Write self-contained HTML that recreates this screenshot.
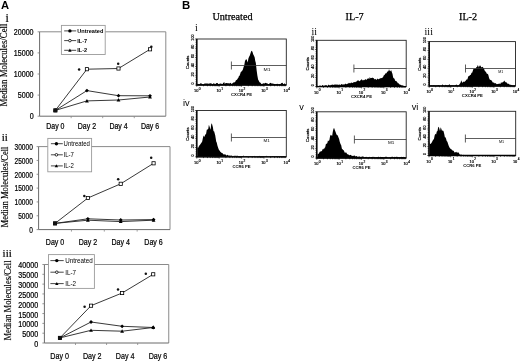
<!DOCTYPE html>
<html><head><meta charset="utf-8"><title>Figure</title>
<style>
html,body{margin:0;padding:0;background:#fff;}
body{width:520px;height:361px;overflow:hidden;font-family:"Liberation Sans", sans-serif;}
svg{display:block;filter:grayscale(100%) blur(0.3px);}
</style></head><body>
<svg width="520" height="361" viewBox="0 0 520 361" font-family='"Liberation Sans", sans-serif' fill="#000">
<text x="0.9" y="8.8" font-size="11.2" font-weight="bold">A</text>
<text x="181.9" y="9.0" font-size="11.4" font-weight="bold">B</text>
<text x="212.4" y="19.7" font-size="10.2" font-family="&quot;Liberation Serif&quot;, serif" stroke="#000" stroke-width="0.25">Untreated</text>
<text x="345.6" y="19.7" font-size="10.2" font-family="&quot;Liberation Serif&quot;, serif" stroke="#000" stroke-width="0.25">IL-7</text>
<text x="459" y="19.7" font-size="10.2" font-family="&quot;Liberation Serif&quot;, serif" stroke="#000" stroke-width="0.25">IL-2</text>
<path d="M39.6 31.8H165.8V116.2" fill="none" stroke="#8a8a8a" stroke-width="1"/>
<path d="M39.6 31.8V116.2H165.8" fill="none" stroke="#6a6a6a" stroke-width="1"/>
<path d="M37.6 116.2H39.6" stroke="#777" stroke-width="0.8"/>
<text x="33.6" y="119.45" font-size="8.2" text-anchor="end" textLength="3.97" lengthAdjust="spacingAndGlyphs" stroke="#000" stroke-width="0.22">0</text>
<path d="M37.6 95.1H39.6" stroke="#777" stroke-width="0.8"/>
<text x="33.6" y="98.35" font-size="8.2" text-anchor="end" textLength="15.87" lengthAdjust="spacingAndGlyphs" stroke="#000" stroke-width="0.22">5000</text>
<path d="M37.6 74H39.6" stroke="#777" stroke-width="0.8"/>
<text x="33.6" y="77.25" font-size="8.2" text-anchor="end" textLength="19.84" lengthAdjust="spacingAndGlyphs" stroke="#000" stroke-width="0.22">10000</text>
<path d="M37.6 52.9H39.6" stroke="#777" stroke-width="0.8"/>
<text x="33.6" y="56.15" font-size="8.2" text-anchor="end" textLength="19.84" lengthAdjust="spacingAndGlyphs" stroke="#000" stroke-width="0.22">15000</text>
<path d="M37.6 31.8H39.6" stroke="#777" stroke-width="0.8"/>
<text x="33.6" y="35.05" font-size="8.2" text-anchor="end" textLength="19.84" lengthAdjust="spacingAndGlyphs" stroke="#000" stroke-width="0.22">20000</text>
<path d="M71.15 116.2V118.2" stroke="#888" stroke-width="0.8"/>
<path d="M102.7 116.2V118.2" stroke="#888" stroke-width="0.8"/>
<path d="M134.25 116.2V118.2" stroke="#888" stroke-width="0.8"/>
<text x="55.38" y="129.35" font-size="8.2" text-anchor="middle" textLength="18.21" lengthAdjust="spacingAndGlyphs" stroke="#000" stroke-width="0.22">Day 0</text>
<text x="86.93" y="129.35" font-size="8.2" text-anchor="middle" textLength="18.21" lengthAdjust="spacingAndGlyphs" stroke="#000" stroke-width="0.22">Day 2</text>
<text x="118.48" y="129.35" font-size="8.2" text-anchor="middle" textLength="18.21" lengthAdjust="spacingAndGlyphs" stroke="#000" stroke-width="0.22">Day 4</text>
<text x="150.03" y="129.35" font-size="8.2" text-anchor="middle" textLength="18.21" lengthAdjust="spacingAndGlyphs" stroke="#000" stroke-width="0.22">Day 6</text>
<polyline points="55.38,110.4 86.93,90.6 118.48,95.7 150.03,95.8" fill="none" stroke="#222" stroke-width="0.9"/>
<polyline points="55.38,110.4 86.93,100.9 118.48,100 150.03,97" fill="none" stroke="#222" stroke-width="0.9"/>
<polyline points="55.38,110.4 86.93,69.2 118.48,68.5 150.03,49.3" fill="none" stroke="#222" stroke-width="0.9"/>
<rect x="53.77" y="108.8" width="3.2" height="3.2" fill="#fff" stroke="#000" stroke-width="0.8"/>
<rect x="85.33" y="67.6" width="3.2" height="3.2" fill="#fff" stroke="#000" stroke-width="0.8"/>
<rect x="116.88" y="66.9" width="3.2" height="3.2" fill="#fff" stroke="#000" stroke-width="0.8"/>
<rect x="148.43" y="47.7" width="3.2" height="3.2" fill="#fff" stroke="#000" stroke-width="0.8"/>
<path d="M55.38 108.5L57.27 110.4L55.38 112.3L53.48 110.4Z" fill="#000"/>
<path d="M86.93 88.7L88.83 90.6L86.93 92.5L85.03 90.6Z" fill="#000"/>
<path d="M118.48 93.8L120.38 95.7L118.48 97.6L116.58 95.7Z" fill="#000"/>
<path d="M150.03 93.9L151.93 95.8L150.03 97.7L148.12 95.8Z" fill="#000"/>
<path d="M55.38 108.5L57.27 111.92L53.48 111.92Z" fill="#000"/>
<path d="M86.93 99L88.83 102.42L85.03 102.42Z" fill="#000"/>
<path d="M118.48 98.1L120.38 101.52L116.58 101.52Z" fill="#000"/>
<path d="M150.03 95.1L151.93 98.52L148.12 98.52Z" fill="#000"/>
<rect x="53.58" y="108.6" width="3.6" height="3.6" fill="#111"/>
<circle cx="79.1" cy="69.4" r="1.25" fill="#111"/>
<circle cx="118.2" cy="63.8" r="1.25" fill="#111"/>
<circle cx="151.3" cy="46.8" r="1.25" fill="#111"/>
<rect x="61.4" y="25.4" width="43.8" height="29.1" fill="#fff" stroke="#9a9a9a" stroke-width="0.9"/>
<path d="M64.2 30.9H76.2" stroke="#333" stroke-width="0.9"/>
<circle cx="69.9" cy="30.9" r="1.7" fill="#000"/>
<text x="77.2" y="32.92" font-size="5.6" font-weight="bold">Untreated</text>
<path d="M64.2 40.6H76.2" stroke="#333" stroke-width="0.9"/>
<circle cx="69.9" cy="40.6" r="1.3" fill="#fff" stroke="#000" stroke-width="0.8"/>
<text x="77.2" y="42.62" font-size="5.6" font-weight="bold">IL-7</text>
<path d="M64.2 50.3H76.2" stroke="#333" stroke-width="0.9"/>
<path d="M69.9 48.6L71.6 51.66L68.2 51.66Z" fill="#000"/>
<text x="77.2" y="52.32" font-size="5.6" font-weight="bold">IL-2</text>
<text transform="translate(7.4 65) rotate(-90)" font-size="9.4" text-anchor="middle" font-family="&quot;Liberation Serif&quot;, serif" textLength="82.99" lengthAdjust="spacingAndGlyphs" stroke="#000" stroke-width="0.15">Median Molecules/Cell</text>
<text x="5.6" y="21.8" font-size="12" font-family="&quot;Liberation Serif&quot;, serif" stroke="#000" stroke-width="0.2">i</text>
<path d="M38.6 146.6H170V229.6" fill="none" stroke="#8a8a8a" stroke-width="1"/>
<path d="M38.6 146.6V229.6H170" fill="none" stroke="#6a6a6a" stroke-width="1"/>
<path d="M36.6 229.6H38.6" stroke="#777" stroke-width="0.8"/>
<text x="32.8" y="232.85" font-size="8.2" text-anchor="end" textLength="3.65" lengthAdjust="spacingAndGlyphs" stroke="#000" stroke-width="0.22">0</text>
<path d="M36.6 215.77H38.6" stroke="#777" stroke-width="0.8"/>
<text x="32.8" y="219.02" font-size="8.2" text-anchor="end" textLength="14.59" lengthAdjust="spacingAndGlyphs" stroke="#000" stroke-width="0.22">5000</text>
<path d="M36.6 201.93H38.6" stroke="#777" stroke-width="0.8"/>
<text x="32.8" y="205.19" font-size="8.2" text-anchor="end" textLength="18.24" lengthAdjust="spacingAndGlyphs" stroke="#000" stroke-width="0.22">10000</text>
<path d="M36.6 188.1H38.6" stroke="#777" stroke-width="0.8"/>
<text x="32.8" y="191.35" font-size="8.2" text-anchor="end" textLength="18.24" lengthAdjust="spacingAndGlyphs" stroke="#000" stroke-width="0.22">15000</text>
<path d="M36.6 174.27H38.6" stroke="#777" stroke-width="0.8"/>
<text x="32.8" y="177.52" font-size="8.2" text-anchor="end" textLength="18.24" lengthAdjust="spacingAndGlyphs" stroke="#000" stroke-width="0.22">20000</text>
<path d="M36.6 160.43H38.6" stroke="#777" stroke-width="0.8"/>
<text x="32.8" y="163.69" font-size="8.2" text-anchor="end" textLength="18.24" lengthAdjust="spacingAndGlyphs" stroke="#000" stroke-width="0.22">25000</text>
<path d="M36.6 146.6H38.6" stroke="#777" stroke-width="0.8"/>
<text x="32.8" y="149.85" font-size="8.2" text-anchor="end" textLength="18.24" lengthAdjust="spacingAndGlyphs" stroke="#000" stroke-width="0.22">30000</text>
<path d="M71.45 229.6V231.6" stroke="#888" stroke-width="0.8"/>
<path d="M104.3 229.6V231.6" stroke="#888" stroke-width="0.8"/>
<path d="M137.15 229.6V231.6" stroke="#888" stroke-width="0.8"/>
<text x="55.03" y="245" font-size="8.4" text-anchor="middle" textLength="18.43" lengthAdjust="spacingAndGlyphs" stroke="#000" stroke-width="0.22">Day 0</text>
<text x="87.88" y="245" font-size="8.4" text-anchor="middle" textLength="18.43" lengthAdjust="spacingAndGlyphs" stroke="#000" stroke-width="0.22">Day 2</text>
<text x="120.72" y="245" font-size="8.4" text-anchor="middle" textLength="18.43" lengthAdjust="spacingAndGlyphs" stroke="#000" stroke-width="0.22">Day 4</text>
<text x="153.58" y="245" font-size="8.4" text-anchor="middle" textLength="18.43" lengthAdjust="spacingAndGlyphs" stroke="#000" stroke-width="0.22">Day 6</text>
<polyline points="55.03,223.4 87.88,218.8 120.72,220 153.58,219.6" fill="none" stroke="#222" stroke-width="0.9"/>
<polyline points="55.03,223.4 87.88,220.2 120.72,221.6 153.58,220.2" fill="none" stroke="#222" stroke-width="0.9"/>
<polyline points="55.03,223.4 87.88,198 120.72,183.8 153.58,163.3" fill="none" stroke="#222" stroke-width="0.9"/>
<rect x="53.43" y="221.8" width="3.2" height="3.2" fill="#fff" stroke="#000" stroke-width="0.8"/>
<rect x="86.27" y="196.4" width="3.2" height="3.2" fill="#fff" stroke="#000" stroke-width="0.8"/>
<rect x="119.12" y="182.2" width="3.2" height="3.2" fill="#fff" stroke="#000" stroke-width="0.8"/>
<rect x="151.98" y="161.7" width="3.2" height="3.2" fill="#fff" stroke="#000" stroke-width="0.8"/>
<path d="M55.03 221.5L56.93 223.4L55.03 225.3L53.13 223.4Z" fill="#000"/>
<path d="M87.88 216.9L89.78 218.8L87.88 220.7L85.97 218.8Z" fill="#000"/>
<path d="M120.72 218.1L122.62 220L120.72 221.9L118.82 220Z" fill="#000"/>
<path d="M153.58 217.7L155.48 219.6L153.58 221.5L151.68 219.6Z" fill="#000"/>
<path d="M55.03 221.5L56.93 224.92L53.13 224.92Z" fill="#000"/>
<path d="M87.88 218.3L89.78 221.72L85.97 221.72Z" fill="#000"/>
<path d="M120.72 219.7L122.62 223.12L118.82 223.12Z" fill="#000"/>
<path d="M153.58 218.3L155.48 221.72L151.68 221.72Z" fill="#000"/>
<rect x="53.23" y="221.6" width="3.6" height="3.6" fill="#111"/>
<circle cx="84.3" cy="196" r="1.25" fill="#111"/>
<circle cx="118.2" cy="179.3" r="1.25" fill="#111"/>
<circle cx="151.2" cy="157.8" r="1.25" fill="#111"/>
<rect x="47.8" y="138.4" width="43.8" height="33.4" fill="#fff" stroke="#9a9a9a" stroke-width="0.9"/>
<path d="M50.9 143.7H62.8" stroke="#333" stroke-width="0.9"/>
<circle cx="56.4" cy="143.7" r="1.7" fill="#000"/>
<text x="63.6" y="146.18" font-size="6.9" textLength="26.36" lengthAdjust="spacingAndGlyphs">Untreated</text>
<path d="M50.9 154.8H62.8" stroke="#333" stroke-width="0.9"/>
<circle cx="56.4" cy="154.8" r="1.3" fill="#fff" stroke="#000" stroke-width="0.8"/>
<text x="63.6" y="157.28" font-size="6.9" textLength="10.34" lengthAdjust="spacingAndGlyphs">IL-7</text>
<path d="M50.9 165.9H62.8" stroke="#333" stroke-width="0.9"/>
<path d="M56.4 164.2L58.1 167.26L54.7 167.26Z" fill="#000"/>
<text x="63.6" y="168.38" font-size="6.9" textLength="10.34" lengthAdjust="spacingAndGlyphs">IL-2</text>
<text transform="translate(7.6 187) rotate(-90)" font-size="9.4" text-anchor="middle" font-family="&quot;Liberation Serif&quot;, serif" textLength="80.99" lengthAdjust="spacingAndGlyphs" stroke="#000" stroke-width="0.15">Median Molecules/Cell</text>
<text x="1.8" y="141.3" font-size="11" font-family="&quot;Liberation Serif&quot;, serif" stroke="#000" stroke-width="0.2">ii</text>
<path d="M44.4 264.5H168.75V343" fill="none" stroke="#8a8a8a" stroke-width="1"/>
<path d="M44.4 264.5V343H168.75" fill="none" stroke="#6a6a6a" stroke-width="1"/>
<path d="M42.4 343H44.4" stroke="#777" stroke-width="0.8"/>
<text x="38.2" y="346.95" font-size="8.2" text-anchor="end" textLength="3.97" lengthAdjust="spacingAndGlyphs" stroke="#000" stroke-width="0.22">0</text>
<path d="M42.4 333.19H44.4" stroke="#777" stroke-width="0.8"/>
<text x="38.2" y="337.14" font-size="8.2" text-anchor="end" textLength="15.87" lengthAdjust="spacingAndGlyphs" stroke="#000" stroke-width="0.22">5000</text>
<path d="M42.4 323.38H44.4" stroke="#777" stroke-width="0.8"/>
<text x="38.2" y="327.33" font-size="8.2" text-anchor="end" textLength="19.84" lengthAdjust="spacingAndGlyphs" stroke="#000" stroke-width="0.22">10000</text>
<path d="M42.4 313.56H44.4" stroke="#777" stroke-width="0.8"/>
<text x="38.2" y="317.51" font-size="8.2" text-anchor="end" textLength="19.84" lengthAdjust="spacingAndGlyphs" stroke="#000" stroke-width="0.22">15000</text>
<path d="M42.4 303.75H44.4" stroke="#777" stroke-width="0.8"/>
<text x="38.2" y="307.7" font-size="8.2" text-anchor="end" textLength="19.84" lengthAdjust="spacingAndGlyphs" stroke="#000" stroke-width="0.22">20000</text>
<path d="M42.4 293.94H44.4" stroke="#777" stroke-width="0.8"/>
<text x="38.2" y="297.89" font-size="8.2" text-anchor="end" textLength="19.84" lengthAdjust="spacingAndGlyphs" stroke="#000" stroke-width="0.22">25000</text>
<path d="M42.4 284.12H44.4" stroke="#777" stroke-width="0.8"/>
<text x="38.2" y="288.08" font-size="8.2" text-anchor="end" textLength="19.84" lengthAdjust="spacingAndGlyphs" stroke="#000" stroke-width="0.22">30000</text>
<path d="M42.4 274.31H44.4" stroke="#777" stroke-width="0.8"/>
<text x="38.2" y="278.26" font-size="8.2" text-anchor="end" textLength="19.84" lengthAdjust="spacingAndGlyphs" stroke="#000" stroke-width="0.22">35000</text>
<path d="M42.4 264.5H44.4" stroke="#777" stroke-width="0.8"/>
<text x="38.2" y="268.45" font-size="8.2" text-anchor="end" textLength="19.84" lengthAdjust="spacingAndGlyphs" stroke="#000" stroke-width="0.22">40000</text>
<path d="M75.49 343V345" stroke="#888" stroke-width="0.8"/>
<path d="M106.57 343V345" stroke="#888" stroke-width="0.8"/>
<path d="M137.66 343V345" stroke="#888" stroke-width="0.8"/>
<text x="59.65" y="358.6" font-size="9.2" text-anchor="middle" textLength="18.75" lengthAdjust="spacingAndGlyphs" stroke="#000" stroke-width="0.22">Day 0</text>
<text x="92.25" y="358.6" font-size="9.2" text-anchor="middle" textLength="18.75" lengthAdjust="spacingAndGlyphs" stroke="#000" stroke-width="0.22">Day 2</text>
<text x="125.2" y="358.6" font-size="9.2" text-anchor="middle" textLength="18.75" lengthAdjust="spacingAndGlyphs" stroke="#000" stroke-width="0.22">Day 4</text>
<text x="158" y="358.6" font-size="9.2" text-anchor="middle" textLength="18.75" lengthAdjust="spacingAndGlyphs" stroke="#000" stroke-width="0.22">Day 6</text>
<polyline points="59.94,337.9 91.03,322 122.12,326.3 153.21,327.5" fill="none" stroke="#222" stroke-width="0.9"/>
<polyline points="59.94,337.9 91.03,330.3 122.12,331.2 153.21,327.5" fill="none" stroke="#222" stroke-width="0.9"/>
<polyline points="59.94,337.9 91.03,305.7 122.12,293 153.21,274.3" fill="none" stroke="#222" stroke-width="0.9"/>
<rect x="58.34" y="336.3" width="3.2" height="3.2" fill="#fff" stroke="#000" stroke-width="0.8"/>
<rect x="89.43" y="304.1" width="3.2" height="3.2" fill="#fff" stroke="#000" stroke-width="0.8"/>
<rect x="120.52" y="291.4" width="3.2" height="3.2" fill="#fff" stroke="#000" stroke-width="0.8"/>
<rect x="151.61" y="272.7" width="3.2" height="3.2" fill="#fff" stroke="#000" stroke-width="0.8"/>
<path d="M59.94 336L61.84 337.9L59.94 339.8L58.04 337.9Z" fill="#000"/>
<path d="M91.03 320.1L92.93 322L91.03 323.9L89.13 322Z" fill="#000"/>
<path d="M122.12 324.4L124.02 326.3L122.12 328.2L120.22 326.3Z" fill="#000"/>
<path d="M153.21 325.6L155.11 327.5L153.21 329.4L151.31 327.5Z" fill="#000"/>
<path d="M59.94 336L61.84 339.42L58.04 339.42Z" fill="#000"/>
<path d="M91.03 328.4L92.93 331.82L89.13 331.82Z" fill="#000"/>
<path d="M122.12 329.3L124.02 332.72L120.22 332.72Z" fill="#000"/>
<path d="M153.21 325.6L155.11 329.02L151.31 329.02Z" fill="#000"/>
<rect x="58.14" y="336.1" width="3.6" height="3.6" fill="#111"/>
<circle cx="84.6" cy="306.8" r="1.25" fill="#111"/>
<circle cx="118" cy="289.6" r="1.25" fill="#111"/>
<circle cx="145.8" cy="273.8" r="1.25" fill="#111"/>
<rect x="48.5" y="254.6" width="45.9" height="33.8" fill="#fff" stroke="#9a9a9a" stroke-width="0.9"/>
<path d="M50.4 260.6H63.7" stroke="#333" stroke-width="0.9"/>
<circle cx="56.8" cy="260.6" r="1.7" fill="#000"/>
<text x="65.2" y="263.19" font-size="7.2" textLength="27.51" lengthAdjust="spacingAndGlyphs">Untreated</text>
<path d="M50.4 272.2H63.7" stroke="#333" stroke-width="0.9"/>
<circle cx="56.8" cy="272.2" r="1.3" fill="#fff" stroke="#000" stroke-width="0.8"/>
<text x="65.2" y="274.79" font-size="7.2" textLength="10.79" lengthAdjust="spacingAndGlyphs">IL-7</text>
<path d="M50.4 283.6H63.7" stroke="#333" stroke-width="0.9"/>
<path d="M56.8 281.9L58.5 284.96L55.1 284.96Z" fill="#000"/>
<text x="65.2" y="286.19" font-size="7.2" textLength="10.79" lengthAdjust="spacingAndGlyphs">IL-2</text>
<text transform="translate(10.6 300.5) rotate(-90)" font-size="9.4" text-anchor="middle" font-family="&quot;Liberation Serif&quot;, serif" textLength="79.99" lengthAdjust="spacingAndGlyphs" stroke="#000" stroke-width="0.15">Median Molecules/Cell</text>
<text x="2.6" y="256.5" font-size="11" font-family="&quot;Liberation Serif&quot;, serif" stroke="#000" stroke-width="0.2">iii</text>
<polygon points="197.3,85 197.5,83.64 198.5,84.02 199.5,84.13 200.5,83.31 201.5,83.54 202.5,84.17 203.5,84.43 204.5,83.61 205.5,83.57 206.5,83.54 207.5,83.48 208.5,83.66 209.5,83.59 210.5,83.2 211.5,83.47 212.5,84.34 213.5,83.25 214.5,83.75 215.5,84.1 216.5,82.9 217.5,82.98 218.5,84.26 219.5,83.87 220.5,83.46 221.5,83.65 222.5,84.19 223.13,83 223.77,82.43 224.4,81.92 224.5,83.73 225.5,83.15 226.5,82.95 227.5,83.14 228.5,83.15 229.5,83.61 230.5,82.81 231.5,84.12 232.5,83.24 233.2,82.91 233.9,81.92 234.57,82.41 235.25,81.74 235.93,80.19 236.6,79.95 237.16,79.57 237.72,78.6 238.28,78.06 238.84,76.13 239.4,75.98 240.1,74.31 240.8,72.1 241.5,71.42 242.2,70.84 242.9,69.4 243.6,67.02 244.27,65.23 244.93,61.21 245.6,59.82 246.6,59.23 247.7,62.6 248.4,58.46 249.1,56.81 249.8,55.47 250.5,53.34 251.2,51.19 251.9,50.8 252.6,52.19 253.3,54.51 254,55.69 254.7,57.56 255.25,61.11 255.8,62.71 256.7,70.77 257.4,75.77 258.1,79.59 258.8,80.68 259.5,82.17 260.2,82.38 260.9,83.24 261.6,84.21 262.5,83.72 263.5,83.31 264.5,83.59 265.5,82.67 266.5,83.28 267.5,83.52 268.5,84.34 269.5,83.6 270.5,82.72 271.5,83.44 272.5,83.56 273.5,83.65 274.5,83.94 275.5,84.28 276.5,83.95 277.5,83.76 278.5,84.59 279.5,84.02 280.5,83.97 281.5,82.93 282.5,82.73 283.5,84.45 284.5,83.18 285.8,85" fill="#000"/>
<rect x="196.8" y="39" width="89.5" height="46" fill="none" stroke="#222" stroke-width="0.9"/>
<path d="M196.8 39V85H286.3" fill="none" stroke="#000" stroke-width="1.3"/>
<path d="M195 85H196.8" stroke="#000" stroke-width="0.6"/>
<path d="M195.5 83.16H196.8" stroke="#000" stroke-width="0.6"/>
<path d="M195.5 81.32H196.8" stroke="#000" stroke-width="0.6"/>
<path d="M195.5 79.48H196.8" stroke="#000" stroke-width="0.6"/>
<path d="M195.5 77.64H196.8" stroke="#000" stroke-width="0.6"/>
<path d="M195 75.8H196.8" stroke="#000" stroke-width="0.6"/>
<path d="M195.5 73.96H196.8" stroke="#000" stroke-width="0.6"/>
<path d="M195.5 72.12H196.8" stroke="#000" stroke-width="0.6"/>
<path d="M195.5 70.28H196.8" stroke="#000" stroke-width="0.6"/>
<path d="M195.5 68.44H196.8" stroke="#000" stroke-width="0.6"/>
<path d="M195 66.6H196.8" stroke="#000" stroke-width="0.6"/>
<path d="M195.5 64.76H196.8" stroke="#000" stroke-width="0.6"/>
<path d="M195.5 62.92H196.8" stroke="#000" stroke-width="0.6"/>
<path d="M195.5 61.08H196.8" stroke="#000" stroke-width="0.6"/>
<path d="M195.5 59.24H196.8" stroke="#000" stroke-width="0.6"/>
<path d="M195 57.4H196.8" stroke="#000" stroke-width="0.6"/>
<path d="M195.5 55.56H196.8" stroke="#000" stroke-width="0.6"/>
<path d="M195.5 53.72H196.8" stroke="#000" stroke-width="0.6"/>
<path d="M195.5 51.88H196.8" stroke="#000" stroke-width="0.6"/>
<path d="M195.5 50.04H196.8" stroke="#000" stroke-width="0.6"/>
<path d="M195 48.2H196.8" stroke="#000" stroke-width="0.6"/>
<path d="M195.5 46.36H196.8" stroke="#000" stroke-width="0.6"/>
<path d="M195.5 44.52H196.8" stroke="#000" stroke-width="0.6"/>
<path d="M195.5 42.68H196.8" stroke="#000" stroke-width="0.6"/>
<path d="M195.5 40.84H196.8" stroke="#000" stroke-width="0.6"/>
<path d="M195 39H196.8" stroke="#000" stroke-width="0.6"/>
<text transform="translate(193.8 83.5) rotate(-90)" font-size="3.9" text-anchor="middle" stroke="#000" stroke-width="0.18">0</text>
<text transform="translate(193.8 74.3) rotate(-90)" font-size="3.9" text-anchor="middle" stroke="#000" stroke-width="0.18">20</text>
<text transform="translate(193.8 65.1) rotate(-90)" font-size="3.9" text-anchor="middle" stroke="#000" stroke-width="0.18">40</text>
<text transform="translate(193.8 55.9) rotate(-90)" font-size="3.9" text-anchor="middle" stroke="#000" stroke-width="0.18">60</text>
<text transform="translate(193.8 46.7) rotate(-90)" font-size="3.9" text-anchor="middle" stroke="#000" stroke-width="0.18">80</text>
<text transform="translate(193.8 37.5) rotate(-90)" font-size="3.9" text-anchor="middle" stroke="#000" stroke-width="0.18">100</text>
<text transform="translate(188.6 62.4) rotate(-90)" font-size="4.2" text-anchor="middle" stroke="#000" stroke-width="0.18">Counts</text>
<path d="M196.8 85V86.8" stroke="#000" stroke-width="0.6"/>
<path d="M203.54 85V86.3" stroke="#000" stroke-width="0.6"/>
<path d="M207.48 85V86.3" stroke="#000" stroke-width="0.6"/>
<path d="M210.27 85V86.3" stroke="#000" stroke-width="0.6"/>
<path d="M212.44 85V86.3" stroke="#000" stroke-width="0.6"/>
<path d="M214.21 85V86.3" stroke="#000" stroke-width="0.6"/>
<path d="M215.71 85V86.3" stroke="#000" stroke-width="0.6"/>
<path d="M217.01 85V86.3" stroke="#000" stroke-width="0.6"/>
<path d="M218.15 85V86.3" stroke="#000" stroke-width="0.6"/>
<path d="M219.18 85V86.8" stroke="#000" stroke-width="0.6"/>
<path d="M225.91 85V86.3" stroke="#000" stroke-width="0.6"/>
<path d="M229.85 85V86.3" stroke="#000" stroke-width="0.6"/>
<path d="M232.65 85V86.3" stroke="#000" stroke-width="0.6"/>
<path d="M234.81 85V86.3" stroke="#000" stroke-width="0.6"/>
<path d="M236.59 85V86.3" stroke="#000" stroke-width="0.6"/>
<path d="M238.08 85V86.3" stroke="#000" stroke-width="0.6"/>
<path d="M239.38 85V86.3" stroke="#000" stroke-width="0.6"/>
<path d="M240.53 85V86.3" stroke="#000" stroke-width="0.6"/>
<path d="M241.55 85V86.8" stroke="#000" stroke-width="0.6"/>
<path d="M248.29 85V86.3" stroke="#000" stroke-width="0.6"/>
<path d="M252.23 85V86.3" stroke="#000" stroke-width="0.6"/>
<path d="M255.02 85V86.3" stroke="#000" stroke-width="0.6"/>
<path d="M257.19 85V86.3" stroke="#000" stroke-width="0.6"/>
<path d="M258.96 85V86.3" stroke="#000" stroke-width="0.6"/>
<path d="M260.46 85V86.3" stroke="#000" stroke-width="0.6"/>
<path d="M261.76 85V86.3" stroke="#000" stroke-width="0.6"/>
<path d="M262.9 85V86.3" stroke="#000" stroke-width="0.6"/>
<path d="M263.93 85V86.8" stroke="#000" stroke-width="0.6"/>
<path d="M270.66 85V86.3" stroke="#000" stroke-width="0.6"/>
<path d="M274.6 85V86.3" stroke="#000" stroke-width="0.6"/>
<path d="M277.4 85V86.3" stroke="#000" stroke-width="0.6"/>
<path d="M279.56 85V86.3" stroke="#000" stroke-width="0.6"/>
<path d="M281.34 85V86.3" stroke="#000" stroke-width="0.6"/>
<path d="M282.83 85V86.3" stroke="#000" stroke-width="0.6"/>
<path d="M284.13 85V86.3" stroke="#000" stroke-width="0.6"/>
<path d="M285.28 85V86.3" stroke="#000" stroke-width="0.6"/>
<text x="196.2" y="92.1" font-size="3.9" text-anchor="middle" stroke="#000" stroke-width="0.18">10</text>
<text x="198.8" y="89.7" font-size="3.2" stroke="#000" stroke-width="0.18">0</text>
<text x="218.58" y="92.1" font-size="3.9" text-anchor="middle" stroke="#000" stroke-width="0.18">10</text>
<text x="221.18" y="89.7" font-size="3.2" stroke="#000" stroke-width="0.18">1</text>
<text x="240.95" y="92.1" font-size="3.9" text-anchor="middle" stroke="#000" stroke-width="0.18">10</text>
<text x="243.55" y="89.7" font-size="3.2" stroke="#000" stroke-width="0.18">2</text>
<text x="263.32" y="92.1" font-size="3.9" text-anchor="middle" stroke="#000" stroke-width="0.18">10</text>
<text x="265.93" y="89.7" font-size="3.2" stroke="#000" stroke-width="0.18">3</text>
<text x="285.7" y="92.1" font-size="3.9" text-anchor="middle" stroke="#000" stroke-width="0.18">10</text>
<text x="288.3" y="89.7" font-size="3.2" stroke="#000" stroke-width="0.18">4</text>
<text x="241.55" y="96" font-size="4.2" text-anchor="middle" font-weight="bold">CXCR4 PE</text>
<path d="M231.4 65.5H286.3 M231.4 61.5V69.5" stroke="#333" stroke-width="0.8" fill="none"/>
<text x="263.6" y="70.6" font-size="3.8" textLength="7" lengthAdjust="spacingAndGlyphs">M1</text>
<text x="195" y="30.8" font-size="10" font-family="&quot;Liberation Serif&quot;, serif">i</text>
<polygon points="317.3,86.6 317.5,85.44 318.08,86.12 318.65,86 319.23,85.46 319.81,85.67 320.38,85.59 320.96,85.77 321.54,85.88 322.12,85.14 322.69,85.04 323.27,85.84 323.85,85.39 324.42,85.7 325,84.88 325.56,85.31 326.12,85.57 326.68,85.01 327.23,85.74 327.79,85.66 328.35,84.7 328.91,84.66 329.47,85.18 330.02,85.57 330.58,84.94 331.14,84.72 331.7,84.91 332.25,84.46 332.81,84.64 333.36,84.85 333.91,84.89 334.47,84.57 335.02,84.54 335.57,84.5 336.13,84.74 336.68,84.52 337.23,84.2 337.79,85.09 338.34,84.74 338.89,84.81 339.45,84.27 340,85.16 340.56,84.94 341.12,84.01 341.68,84.18 342.23,84.56 342.79,84.48 343.35,84.67 343.91,83.98 344.47,84.4 345.02,84.13 345.58,83.61 346.14,83.88 346.7,84.18 347.25,84.05 347.8,83.54 348.35,83.56 348.9,82.77 349.45,82.95 350,83.59 350.58,82.95 351.17,82.5 351.75,82.87 352.33,82.95 352.92,82.78 353.5,82.22 354.07,82.14 354.64,82.07 355.21,82.29 355.79,81.75 356.36,81.38 356.93,81.36 357.5,80.47 358.25,80.18 359,80.93 359.62,81.22 360.25,80.4 360.88,79.9 361.5,79.34 362.12,79.83 362.75,80.58 363.38,80.14 364,79.67 364.58,80.15 365.16,78.97 365.74,79.38 366.32,80.08 366.9,79.34 367.48,78.87 368.06,78.25 368.64,78.51 369.22,79.03 369.8,76.94 370.43,78.23 371.05,78.09 371.68,78.01 372.3,77.49 372.9,78.12 373.5,78.04 374.25,78.96 375,79.57 375.67,78.69 376.33,79.89 377,79.13 377.67,78.53 378.33,79.14 379,79.17 379.67,78.6 380.33,78.25 381,78.27 381.7,78.11 382.4,77.76 383.1,77.12 383.85,75.34 384.6,74.9 385.2,73.58 385.8,73.41 386.4,73.29 387,72.31 387.8,71.34 388.4,71.16 389,69.29 389.8,71.08 390.45,71.14 391.1,70.05 391.8,71.99 392.5,74.1 393.15,77.43 393.8,78.13 394.5,78.87 395.2,80.7 395.85,80.96 396.5,81.27 397.18,82.03 397.85,83.14 398.52,83.29 399.2,84.03 399.88,84.84 400.55,84.85 401.22,85.01 401.9,85.47 402.55,85.14 403.2,85.64 403.85,85.8 404.5,86 405.7,86.6" fill="#000"/>
<rect x="316.8" y="40.3" width="89.4" height="46.3" fill="none" stroke="#222" stroke-width="0.9"/>
<path d="M316.8 40.3V86.6H406.2" fill="none" stroke="#000" stroke-width="1.3"/>
<path d="M315 86.6H316.8" stroke="#000" stroke-width="0.6"/>
<path d="M315.5 84.75H316.8" stroke="#000" stroke-width="0.6"/>
<path d="M315.5 82.9H316.8" stroke="#000" stroke-width="0.6"/>
<path d="M315.5 81.04H316.8" stroke="#000" stroke-width="0.6"/>
<path d="M315.5 79.19H316.8" stroke="#000" stroke-width="0.6"/>
<path d="M315 77.34H316.8" stroke="#000" stroke-width="0.6"/>
<path d="M315.5 75.49H316.8" stroke="#000" stroke-width="0.6"/>
<path d="M315.5 73.64H316.8" stroke="#000" stroke-width="0.6"/>
<path d="M315.5 71.78H316.8" stroke="#000" stroke-width="0.6"/>
<path d="M315.5 69.93H316.8" stroke="#000" stroke-width="0.6"/>
<path d="M315 68.08H316.8" stroke="#000" stroke-width="0.6"/>
<path d="M315.5 66.23H316.8" stroke="#000" stroke-width="0.6"/>
<path d="M315.5 64.38H316.8" stroke="#000" stroke-width="0.6"/>
<path d="M315.5 62.52H316.8" stroke="#000" stroke-width="0.6"/>
<path d="M315.5 60.67H316.8" stroke="#000" stroke-width="0.6"/>
<path d="M315 58.82H316.8" stroke="#000" stroke-width="0.6"/>
<path d="M315.5 56.97H316.8" stroke="#000" stroke-width="0.6"/>
<path d="M315.5 55.12H316.8" stroke="#000" stroke-width="0.6"/>
<path d="M315.5 53.26H316.8" stroke="#000" stroke-width="0.6"/>
<path d="M315.5 51.41H316.8" stroke="#000" stroke-width="0.6"/>
<path d="M315 49.56H316.8" stroke="#000" stroke-width="0.6"/>
<path d="M315.5 47.71H316.8" stroke="#000" stroke-width="0.6"/>
<path d="M315.5 45.86H316.8" stroke="#000" stroke-width="0.6"/>
<path d="M315.5 44H316.8" stroke="#000" stroke-width="0.6"/>
<path d="M315.5 42.15H316.8" stroke="#000" stroke-width="0.6"/>
<path d="M315 40.3H316.8" stroke="#000" stroke-width="0.6"/>
<text transform="translate(313.8 85.1) rotate(-90)" font-size="3.9" text-anchor="middle" stroke="#000" stroke-width="0.18">0</text>
<text transform="translate(313.8 75.84) rotate(-90)" font-size="3.9" text-anchor="middle" stroke="#000" stroke-width="0.18">20</text>
<text transform="translate(313.8 66.58) rotate(-90)" font-size="3.9" text-anchor="middle" stroke="#000" stroke-width="0.18">40</text>
<text transform="translate(313.8 57.32) rotate(-90)" font-size="3.9" text-anchor="middle" stroke="#000" stroke-width="0.18">60</text>
<text transform="translate(313.8 48.06) rotate(-90)" font-size="3.9" text-anchor="middle" stroke="#000" stroke-width="0.18">80</text>
<text transform="translate(313.8 38.8) rotate(-90)" font-size="3.9" text-anchor="middle" stroke="#000" stroke-width="0.18">100</text>
<text transform="translate(308.6 63.85) rotate(-90)" font-size="4.2" text-anchor="middle" stroke="#000" stroke-width="0.18">Counts</text>
<path d="M316.8 86.6V88.4" stroke="#000" stroke-width="0.6"/>
<path d="M323.53 86.6V87.9" stroke="#000" stroke-width="0.6"/>
<path d="M327.46 86.6V87.9" stroke="#000" stroke-width="0.6"/>
<path d="M330.26 86.6V87.9" stroke="#000" stroke-width="0.6"/>
<path d="M332.42 86.6V87.9" stroke="#000" stroke-width="0.6"/>
<path d="M334.19 86.6V87.9" stroke="#000" stroke-width="0.6"/>
<path d="M335.69 86.6V87.9" stroke="#000" stroke-width="0.6"/>
<path d="M336.98 86.6V87.9" stroke="#000" stroke-width="0.6"/>
<path d="M338.13 86.6V87.9" stroke="#000" stroke-width="0.6"/>
<path d="M339.15 86.6V88.4" stroke="#000" stroke-width="0.6"/>
<path d="M345.88 86.6V87.9" stroke="#000" stroke-width="0.6"/>
<path d="M349.81 86.6V87.9" stroke="#000" stroke-width="0.6"/>
<path d="M352.61 86.6V87.9" stroke="#000" stroke-width="0.6"/>
<path d="M354.77 86.6V87.9" stroke="#000" stroke-width="0.6"/>
<path d="M356.54 86.6V87.9" stroke="#000" stroke-width="0.6"/>
<path d="M358.04 86.6V87.9" stroke="#000" stroke-width="0.6"/>
<path d="M359.33 86.6V87.9" stroke="#000" stroke-width="0.6"/>
<path d="M360.48 86.6V87.9" stroke="#000" stroke-width="0.6"/>
<path d="M361.5 86.6V88.4" stroke="#000" stroke-width="0.6"/>
<path d="M368.23 86.6V87.9" stroke="#000" stroke-width="0.6"/>
<path d="M372.16 86.6V87.9" stroke="#000" stroke-width="0.6"/>
<path d="M374.96 86.6V87.9" stroke="#000" stroke-width="0.6"/>
<path d="M377.12 86.6V87.9" stroke="#000" stroke-width="0.6"/>
<path d="M378.89 86.6V87.9" stroke="#000" stroke-width="0.6"/>
<path d="M380.39 86.6V87.9" stroke="#000" stroke-width="0.6"/>
<path d="M381.68 86.6V87.9" stroke="#000" stroke-width="0.6"/>
<path d="M382.83 86.6V87.9" stroke="#000" stroke-width="0.6"/>
<path d="M383.85 86.6V88.4" stroke="#000" stroke-width="0.6"/>
<path d="M390.58 86.6V87.9" stroke="#000" stroke-width="0.6"/>
<path d="M394.51 86.6V87.9" stroke="#000" stroke-width="0.6"/>
<path d="M397.31 86.6V87.9" stroke="#000" stroke-width="0.6"/>
<path d="M399.47 86.6V87.9" stroke="#000" stroke-width="0.6"/>
<path d="M401.24 86.6V87.9" stroke="#000" stroke-width="0.6"/>
<path d="M402.74 86.6V87.9" stroke="#000" stroke-width="0.6"/>
<path d="M404.03 86.6V87.9" stroke="#000" stroke-width="0.6"/>
<path d="M405.18 86.6V87.9" stroke="#000" stroke-width="0.6"/>
<text x="316.2" y="93.7" font-size="3.9" text-anchor="middle" stroke="#000" stroke-width="0.18">10</text>
<text x="318.8" y="91.3" font-size="3.2" stroke="#000" stroke-width="0.18">0</text>
<text x="338.55" y="93.7" font-size="3.9" text-anchor="middle" stroke="#000" stroke-width="0.18">10</text>
<text x="341.15" y="91.3" font-size="3.2" stroke="#000" stroke-width="0.18">1</text>
<text x="360.9" y="93.7" font-size="3.9" text-anchor="middle" stroke="#000" stroke-width="0.18">10</text>
<text x="363.5" y="91.3" font-size="3.2" stroke="#000" stroke-width="0.18">2</text>
<text x="383.25" y="93.7" font-size="3.9" text-anchor="middle" stroke="#000" stroke-width="0.18">10</text>
<text x="385.85" y="91.3" font-size="3.2" stroke="#000" stroke-width="0.18">3</text>
<text x="405.6" y="93.7" font-size="3.9" text-anchor="middle" stroke="#000" stroke-width="0.18">10</text>
<text x="408.2" y="91.3" font-size="3.2" stroke="#000" stroke-width="0.18">4</text>
<text x="361.5" y="97.6" font-size="4.2" text-anchor="middle" font-weight="bold">CXCR4 PE</text>
<path d="M353.9 68.5H406.2 M353.9 64.5V72.5" stroke="#333" stroke-width="0.8" fill="none"/>
<text x="311.6" y="34.9" font-size="10" font-family="&quot;Liberation Serif&quot;, serif">ii</text>
<polygon points="429.7,86 429.6,85.2 430.6,85.7 431.6,85.35 432.6,85.68 433.6,85.25 434.6,85.44 435.6,85.7 436.6,85.57 437.6,85.58 438.6,84.93 439.6,85.7 440.6,85.7 441.6,85.66 442.6,84.33 443.6,85.7 444.6,85.7 445.6,84.85 446.6,85.14 447.6,85.59 448.6,84.99 449.6,84.13 450.6,85.7 451.6,85.26 452.6,85.48 453.6,85.54 454.6,85.7 455.6,85.12 456.6,84.57 457.6,85.69 458.6,85.18 459.5,84.31 460.5,82.66 461.3,80.37 462.2,82.75 462.95,82.17 463.7,81.45 464.33,82.11 464.97,81.25 465.6,80.92 466.27,79.35 466.93,79.89 467.6,78.86 468.23,76.49 468.87,75.92 469.5,75.78 470.17,74.98 470.83,74.74 471.5,72.71 472.13,72.63 472.77,71.1 473.4,68.93 474.4,68.86 475.1,69.03 475.8,68.2 476.4,66.99 477,67.13 477.6,65.23 478.2,65.77 478.82,67.46 479.45,66.12 480.07,65.23 480.7,66.36 481.33,67.16 481.97,67.36 482.6,66.7 483.3,67.66 484,68.63 484.75,70.83 485.5,71.56 486.25,72.43 487,73.88 487.63,73.81 488.27,74.87 488.9,77.21 489.45,79.09 490,79.76 490.7,80 491.4,80.23 492.1,81.3 492.8,82.45 493.5,82.6 494.2,82.75 494.87,83.49 495.53,83.04 496.2,83.72 496.9,84.33 497.6,83.99 498.3,83.95 499,83.53 499.7,83.66 500.4,83.95 500.97,82.31 501.53,82.84 502.1,82.44 502.8,82.2 503.5,81.65 504.2,80.4 504.9,81.53 505.6,82.18 506.3,82.6 506.87,82.48 507.43,83.82 508,83.78 508.7,83.73 509.4,84.44 510.1,84.78 510.8,84.85 511.5,85.05 512.2,85.44 512.76,85.6 513.32,85.67 513.88,85.6 514.44,85.28 515,85.8 515,86" fill="#000"/>
<rect x="429.2" y="41.6" width="86.3" height="44.4" fill="none" stroke="#222" stroke-width="0.9"/>
<path d="M429.2 41.6V86H515.5" fill="none" stroke="#000" stroke-width="1.3"/>
<path d="M427.4 86H429.2" stroke="#000" stroke-width="0.6"/>
<path d="M427.9 84.22H429.2" stroke="#000" stroke-width="0.6"/>
<path d="M427.9 82.45H429.2" stroke="#000" stroke-width="0.6"/>
<path d="M427.9 80.67H429.2" stroke="#000" stroke-width="0.6"/>
<path d="M427.9 78.9H429.2" stroke="#000" stroke-width="0.6"/>
<path d="M427.4 77.12H429.2" stroke="#000" stroke-width="0.6"/>
<path d="M427.9 75.34H429.2" stroke="#000" stroke-width="0.6"/>
<path d="M427.9 73.57H429.2" stroke="#000" stroke-width="0.6"/>
<path d="M427.9 71.79H429.2" stroke="#000" stroke-width="0.6"/>
<path d="M427.9 70.02H429.2" stroke="#000" stroke-width="0.6"/>
<path d="M427.4 68.24H429.2" stroke="#000" stroke-width="0.6"/>
<path d="M427.9 66.46H429.2" stroke="#000" stroke-width="0.6"/>
<path d="M427.9 64.69H429.2" stroke="#000" stroke-width="0.6"/>
<path d="M427.9 62.91H429.2" stroke="#000" stroke-width="0.6"/>
<path d="M427.9 61.14H429.2" stroke="#000" stroke-width="0.6"/>
<path d="M427.4 59.36H429.2" stroke="#000" stroke-width="0.6"/>
<path d="M427.9 57.58H429.2" stroke="#000" stroke-width="0.6"/>
<path d="M427.9 55.81H429.2" stroke="#000" stroke-width="0.6"/>
<path d="M427.9 54.03H429.2" stroke="#000" stroke-width="0.6"/>
<path d="M427.9 52.26H429.2" stroke="#000" stroke-width="0.6"/>
<path d="M427.4 50.48H429.2" stroke="#000" stroke-width="0.6"/>
<path d="M427.9 48.7H429.2" stroke="#000" stroke-width="0.6"/>
<path d="M427.9 46.93H429.2" stroke="#000" stroke-width="0.6"/>
<path d="M427.9 45.15H429.2" stroke="#000" stroke-width="0.6"/>
<path d="M427.9 43.38H429.2" stroke="#000" stroke-width="0.6"/>
<path d="M427.4 41.6H429.2" stroke="#000" stroke-width="0.6"/>
<text transform="translate(426.2 84.5) rotate(-90)" font-size="3.9" text-anchor="middle" stroke="#000" stroke-width="0.18">0</text>
<text transform="translate(426.2 75.62) rotate(-90)" font-size="3.9" text-anchor="middle" stroke="#000" stroke-width="0.18">20</text>
<text transform="translate(426.2 66.74) rotate(-90)" font-size="3.9" text-anchor="middle" stroke="#000" stroke-width="0.18">40</text>
<text transform="translate(426.2 57.86) rotate(-90)" font-size="3.9" text-anchor="middle" stroke="#000" stroke-width="0.18">60</text>
<text transform="translate(426.2 48.98) rotate(-90)" font-size="3.9" text-anchor="middle" stroke="#000" stroke-width="0.18">80</text>
<text transform="translate(426.2 40.1) rotate(-90)" font-size="3.9" text-anchor="middle" stroke="#000" stroke-width="0.18">100</text>
<text transform="translate(421 64.2) rotate(-90)" font-size="4.2" text-anchor="middle" stroke="#000" stroke-width="0.18">Counts</text>
<path d="M429.2 86V87.8" stroke="#000" stroke-width="0.6"/>
<path d="M435.69 86V87.3" stroke="#000" stroke-width="0.6"/>
<path d="M439.49 86V87.3" stroke="#000" stroke-width="0.6"/>
<path d="M442.19 86V87.3" stroke="#000" stroke-width="0.6"/>
<path d="M444.28 86V87.3" stroke="#000" stroke-width="0.6"/>
<path d="M445.99 86V87.3" stroke="#000" stroke-width="0.6"/>
<path d="M447.43 86V87.3" stroke="#000" stroke-width="0.6"/>
<path d="M448.68 86V87.3" stroke="#000" stroke-width="0.6"/>
<path d="M449.79 86V87.3" stroke="#000" stroke-width="0.6"/>
<path d="M450.77 86V87.8" stroke="#000" stroke-width="0.6"/>
<path d="M457.27 86V87.3" stroke="#000" stroke-width="0.6"/>
<path d="M461.07 86V87.3" stroke="#000" stroke-width="0.6"/>
<path d="M463.76 86V87.3" stroke="#000" stroke-width="0.6"/>
<path d="M465.86 86V87.3" stroke="#000" stroke-width="0.6"/>
<path d="M467.56 86V87.3" stroke="#000" stroke-width="0.6"/>
<path d="M469.01 86V87.3" stroke="#000" stroke-width="0.6"/>
<path d="M470.26 86V87.3" stroke="#000" stroke-width="0.6"/>
<path d="M471.36 86V87.3" stroke="#000" stroke-width="0.6"/>
<path d="M472.35 86V87.8" stroke="#000" stroke-width="0.6"/>
<path d="M478.84 86V87.3" stroke="#000" stroke-width="0.6"/>
<path d="M482.64 86V87.3" stroke="#000" stroke-width="0.6"/>
<path d="M485.34 86V87.3" stroke="#000" stroke-width="0.6"/>
<path d="M487.43 86V87.3" stroke="#000" stroke-width="0.6"/>
<path d="M489.14 86V87.3" stroke="#000" stroke-width="0.6"/>
<path d="M490.58 86V87.3" stroke="#000" stroke-width="0.6"/>
<path d="M491.83 86V87.3" stroke="#000" stroke-width="0.6"/>
<path d="M492.94 86V87.3" stroke="#000" stroke-width="0.6"/>
<path d="M493.93 86V87.8" stroke="#000" stroke-width="0.6"/>
<path d="M500.42 86V87.3" stroke="#000" stroke-width="0.6"/>
<path d="M504.22 86V87.3" stroke="#000" stroke-width="0.6"/>
<path d="M506.91 86V87.3" stroke="#000" stroke-width="0.6"/>
<path d="M509.01 86V87.3" stroke="#000" stroke-width="0.6"/>
<path d="M510.71 86V87.3" stroke="#000" stroke-width="0.6"/>
<path d="M512.16 86V87.3" stroke="#000" stroke-width="0.6"/>
<path d="M513.41 86V87.3" stroke="#000" stroke-width="0.6"/>
<path d="M514.51 86V87.3" stroke="#000" stroke-width="0.6"/>
<text x="428.6" y="93.1" font-size="3.9" text-anchor="middle" stroke="#000" stroke-width="0.18">10</text>
<text x="431.2" y="90.7" font-size="3.2" stroke="#000" stroke-width="0.18">0</text>
<text x="450.17" y="93.1" font-size="3.9" text-anchor="middle" stroke="#000" stroke-width="0.18">10</text>
<text x="452.77" y="90.7" font-size="3.2" stroke="#000" stroke-width="0.18">1</text>
<text x="471.75" y="93.1" font-size="3.9" text-anchor="middle" stroke="#000" stroke-width="0.18">10</text>
<text x="474.35" y="90.7" font-size="3.2" stroke="#000" stroke-width="0.18">2</text>
<text x="493.32" y="93.1" font-size="3.9" text-anchor="middle" stroke="#000" stroke-width="0.18">10</text>
<text x="495.93" y="90.7" font-size="3.2" stroke="#000" stroke-width="0.18">3</text>
<text x="514.9" y="93.1" font-size="3.9" text-anchor="middle" stroke="#000" stroke-width="0.18">10</text>
<text x="517.5" y="90.7" font-size="3.2" stroke="#000" stroke-width="0.18">4</text>
<text x="472.35" y="97" font-size="4.2" text-anchor="middle" font-weight="bold">CXCR4 PE</text>
<path d="M465.5 68.5H515.5 M465.5 64.5V72.5" stroke="#333" stroke-width="0.8" fill="none"/>
<text x="498.3" y="73.3" font-size="3.8" textLength="4.9" lengthAdjust="spacingAndGlyphs">M1</text>
<text x="424.6" y="35.3" font-size="10" font-family="&quot;Liberation Serif&quot;, serif">iii</text>
<polygon points="197.3,156.8 197.3,146.97 197.9,147.91 198.5,147.26 199.1,145.67 199.9,145.04 200.7,143.78 201.45,142.75 202.2,141.61 202.95,137.66 203.7,135.45 204.45,137 205.2,134.46 206,134.18 206.8,129.75 207.55,129.57 208.3,128.87 208.9,124.86 209.5,126.44 210.6,129.65 211.2,124.53 211.8,123.18 212.9,127.28 213.5,131.24 214.1,131.24 215.2,135.35 216.2,141.39 216.8,142.75 217.4,145.6 218.2,147.98 219,149.99 219.75,150.73 220.5,151.91 221.07,152.28 221.65,153 222.23,153.15 222.8,153.2 223.43,154.42 224.07,154.27 224.7,154.57 225.33,154.23 225.97,155.36 226.6,155.4 227.15,154.65 227.71,154.96 228.26,155.46 228.82,155.52 229.37,155.83 229.93,155.35 230.48,155.86 231.04,155.76 231.59,155.45 232.15,155.82 232.7,156.19 233.26,156.17 233.82,155.84 234.38,155.94 234.94,155.4 235.5,155.63 236.05,156.21 236.61,155.84 237.17,155.62 237.73,156.01 238.29,156.18 238.85,156.17 239.41,155.89 239.97,155.98 240.53,156.06 241.09,156.35 241.65,156.11 242.2,156 242.76,156.12 243.32,155.69 243.88,155.72 244.44,156.38 245,156.5 245.55,156.29 246.11,156.1 246.66,155.89 247.22,156.21 247.77,156.5 248.33,156.48 248.88,156.26 249.44,156.5 249.99,155.97 250.55,156.24 251.1,156.5 251.66,156.31 252.21,156.2 252.77,156.02 253.32,156.29 253.88,156.5 254.43,155.77 254.99,156.5 255.54,156.5 256.1,156.5 256.65,156.49 257.21,156.5 257.76,156.28 258.32,156.32 258.87,156.2 259.42,155.84 259.98,156.5 260.53,156.34 261.09,155.99 261.64,156.29 262.2,156.27 262.75,156.15 263.31,156.14 263.86,156.33 264.42,156.41 264.97,156.41 265.53,156.26 266.08,155.85 266.64,156.05 267.19,156 267.75,156.39 268.3,156.5 268.86,156.5 269.41,156.5 269.97,156.5 270.52,156.09 271.08,156.5 271.63,156.5 272.18,155.94 272.74,155.88 273.29,155.88 273.85,156.5 274.4,156.11 274.96,155.98 275.51,156.47 276.07,156.21 276.62,155.95 277.18,156.03 277.73,156.39 278.29,156.05 278.84,156.15 279.4,156.5 279.95,156.33 280.51,156.21 281.06,156.35 281.62,155.93 282.17,156.28 282.73,156.31 283.28,156.09 283.84,156.02 284.39,156.5 284.95,156.41 285.5,156.4 285.8,156.8" fill="#000"/>
<rect x="196.8" y="110.5" width="89.5" height="46.3" fill="none" stroke="#222" stroke-width="0.9"/>
<path d="M196.8 110.5V156.8H286.3" fill="none" stroke="#000" stroke-width="1.3"/>
<path d="M195 156.8H196.8" stroke="#000" stroke-width="0.6"/>
<path d="M195.5 154.95H196.8" stroke="#000" stroke-width="0.6"/>
<path d="M195.5 153.1H196.8" stroke="#000" stroke-width="0.6"/>
<path d="M195.5 151.24H196.8" stroke="#000" stroke-width="0.6"/>
<path d="M195.5 149.39H196.8" stroke="#000" stroke-width="0.6"/>
<path d="M195 147.54H196.8" stroke="#000" stroke-width="0.6"/>
<path d="M195.5 145.69H196.8" stroke="#000" stroke-width="0.6"/>
<path d="M195.5 143.84H196.8" stroke="#000" stroke-width="0.6"/>
<path d="M195.5 141.98H196.8" stroke="#000" stroke-width="0.6"/>
<path d="M195.5 140.13H196.8" stroke="#000" stroke-width="0.6"/>
<path d="M195 138.28H196.8" stroke="#000" stroke-width="0.6"/>
<path d="M195.5 136.43H196.8" stroke="#000" stroke-width="0.6"/>
<path d="M195.5 134.58H196.8" stroke="#000" stroke-width="0.6"/>
<path d="M195.5 132.72H196.8" stroke="#000" stroke-width="0.6"/>
<path d="M195.5 130.87H196.8" stroke="#000" stroke-width="0.6"/>
<path d="M195 129.02H196.8" stroke="#000" stroke-width="0.6"/>
<path d="M195.5 127.17H196.8" stroke="#000" stroke-width="0.6"/>
<path d="M195.5 125.32H196.8" stroke="#000" stroke-width="0.6"/>
<path d="M195.5 123.46H196.8" stroke="#000" stroke-width="0.6"/>
<path d="M195.5 121.61H196.8" stroke="#000" stroke-width="0.6"/>
<path d="M195 119.76H196.8" stroke="#000" stroke-width="0.6"/>
<path d="M195.5 117.91H196.8" stroke="#000" stroke-width="0.6"/>
<path d="M195.5 116.06H196.8" stroke="#000" stroke-width="0.6"/>
<path d="M195.5 114.2H196.8" stroke="#000" stroke-width="0.6"/>
<path d="M195.5 112.35H196.8" stroke="#000" stroke-width="0.6"/>
<path d="M195 110.5H196.8" stroke="#000" stroke-width="0.6"/>
<text transform="translate(193.8 155.3) rotate(-90)" font-size="3.9" text-anchor="middle" stroke="#000" stroke-width="0.18">0</text>
<text transform="translate(193.8 146.04) rotate(-90)" font-size="3.9" text-anchor="middle" stroke="#000" stroke-width="0.18">20</text>
<text transform="translate(193.8 136.78) rotate(-90)" font-size="3.9" text-anchor="middle" stroke="#000" stroke-width="0.18">40</text>
<text transform="translate(193.8 127.52) rotate(-90)" font-size="3.9" text-anchor="middle" stroke="#000" stroke-width="0.18">60</text>
<text transform="translate(193.8 118.26) rotate(-90)" font-size="3.9" text-anchor="middle" stroke="#000" stroke-width="0.18">80</text>
<text transform="translate(193.8 109) rotate(-90)" font-size="3.9" text-anchor="middle" stroke="#000" stroke-width="0.18">100</text>
<text transform="translate(188.6 134.05) rotate(-90)" font-size="4.2" text-anchor="middle" stroke="#000" stroke-width="0.18">Counts</text>
<path d="M196.8 156.8V158.6" stroke="#000" stroke-width="0.6"/>
<path d="M203.54 156.8V158.1" stroke="#000" stroke-width="0.6"/>
<path d="M207.48 156.8V158.1" stroke="#000" stroke-width="0.6"/>
<path d="M210.27 156.8V158.1" stroke="#000" stroke-width="0.6"/>
<path d="M212.44 156.8V158.1" stroke="#000" stroke-width="0.6"/>
<path d="M214.21 156.8V158.1" stroke="#000" stroke-width="0.6"/>
<path d="M215.71 156.8V158.1" stroke="#000" stroke-width="0.6"/>
<path d="M217.01 156.8V158.1" stroke="#000" stroke-width="0.6"/>
<path d="M218.15 156.8V158.1" stroke="#000" stroke-width="0.6"/>
<path d="M219.18 156.8V158.6" stroke="#000" stroke-width="0.6"/>
<path d="M225.91 156.8V158.1" stroke="#000" stroke-width="0.6"/>
<path d="M229.85 156.8V158.1" stroke="#000" stroke-width="0.6"/>
<path d="M232.65 156.8V158.1" stroke="#000" stroke-width="0.6"/>
<path d="M234.81 156.8V158.1" stroke="#000" stroke-width="0.6"/>
<path d="M236.59 156.8V158.1" stroke="#000" stroke-width="0.6"/>
<path d="M238.08 156.8V158.1" stroke="#000" stroke-width="0.6"/>
<path d="M239.38 156.8V158.1" stroke="#000" stroke-width="0.6"/>
<path d="M240.53 156.8V158.1" stroke="#000" stroke-width="0.6"/>
<path d="M241.55 156.8V158.6" stroke="#000" stroke-width="0.6"/>
<path d="M248.29 156.8V158.1" stroke="#000" stroke-width="0.6"/>
<path d="M252.23 156.8V158.1" stroke="#000" stroke-width="0.6"/>
<path d="M255.02 156.8V158.1" stroke="#000" stroke-width="0.6"/>
<path d="M257.19 156.8V158.1" stroke="#000" stroke-width="0.6"/>
<path d="M258.96 156.8V158.1" stroke="#000" stroke-width="0.6"/>
<path d="M260.46 156.8V158.1" stroke="#000" stroke-width="0.6"/>
<path d="M261.76 156.8V158.1" stroke="#000" stroke-width="0.6"/>
<path d="M262.9 156.8V158.1" stroke="#000" stroke-width="0.6"/>
<path d="M263.93 156.8V158.6" stroke="#000" stroke-width="0.6"/>
<path d="M270.66 156.8V158.1" stroke="#000" stroke-width="0.6"/>
<path d="M274.6 156.8V158.1" stroke="#000" stroke-width="0.6"/>
<path d="M277.4 156.8V158.1" stroke="#000" stroke-width="0.6"/>
<path d="M279.56 156.8V158.1" stroke="#000" stroke-width="0.6"/>
<path d="M281.34 156.8V158.1" stroke="#000" stroke-width="0.6"/>
<path d="M282.83 156.8V158.1" stroke="#000" stroke-width="0.6"/>
<path d="M284.13 156.8V158.1" stroke="#000" stroke-width="0.6"/>
<path d="M285.28 156.8V158.1" stroke="#000" stroke-width="0.6"/>
<text x="196.2" y="163.9" font-size="3.9" text-anchor="middle" stroke="#000" stroke-width="0.18">10</text>
<text x="198.8" y="161.5" font-size="3.2" stroke="#000" stroke-width="0.18">0</text>
<text x="218.58" y="163.9" font-size="3.9" text-anchor="middle" stroke="#000" stroke-width="0.18">10</text>
<text x="221.18" y="161.5" font-size="3.2" stroke="#000" stroke-width="0.18">1</text>
<text x="240.95" y="163.9" font-size="3.9" text-anchor="middle" stroke="#000" stroke-width="0.18">10</text>
<text x="243.55" y="161.5" font-size="3.2" stroke="#000" stroke-width="0.18">2</text>
<text x="263.32" y="163.9" font-size="3.9" text-anchor="middle" stroke="#000" stroke-width="0.18">10</text>
<text x="265.93" y="161.5" font-size="3.2" stroke="#000" stroke-width="0.18">3</text>
<text x="285.7" y="163.9" font-size="3.9" text-anchor="middle" stroke="#000" stroke-width="0.18">10</text>
<text x="288.3" y="161.5" font-size="3.2" stroke="#000" stroke-width="0.18">4</text>
<text x="241.55" y="167.8" font-size="4.2" text-anchor="middle" font-weight="bold">CCR6 PE</text>
<path d="M231.4 137.5H286.3 M231.4 133.5V141.5" stroke="#333" stroke-width="0.8" fill="none"/>
<text x="263.6" y="141.9" font-size="3.8" textLength="6.2" lengthAdjust="spacingAndGlyphs">M1</text>
<text x="183" y="105.6" font-size="9.2">iv</text>
<polygon points="317.3,158 317.6,153.81 318.3,154.1 319,153.3 319.7,151.81 320.26,151.79 320.82,151.31 321.38,151.26 321.94,151.12 322.5,149.45 323.17,148.59 323.83,149.47 324.5,147.96 325.2,147.29 325.9,144.09 326.6,143.76 327.3,143.14 328,140.37 328.7,141.17 329.4,139.93 330.1,135.89 330.8,134.64 331.5,135.4 332.2,135.85 332.75,132.03 333.3,129.62 334,127.65 334.9,130.32 335.6,132.12 336.3,133.97 337,135.23 337.7,135.36 338.4,137.16 339.1,138.93 339.8,142.09 340.5,144.07 341.2,145.25 341.9,148.8 342.57,149.14 343.23,150.23 343.9,150.35 344.6,152.39 345.3,152.81 346,152.33 346.56,152.99 347.12,153.9 347.68,154.21 348.24,154.85 348.8,154.5 349.39,155.18 349.97,155.13 350.56,154.83 351.14,155.34 351.73,155.85 352.31,155.96 352.9,155.71 353.5,155.9 354.1,155.36 354.7,155.71 355.3,156.44 355.9,156.1 356.5,155.94 357.1,156.45 357.66,156.66 358.23,156.67 358.79,156.39 359.36,156.51 359.92,156.62 360.49,156.95 361.05,156.72 361.61,156.63 362.18,156.77 362.74,156.34 363.31,156.4 363.87,157.12 364.44,157.45 365,157.1 365.56,156.89 366.11,156.67 366.67,157.01 367.22,157.5 367.78,157.29 368.33,157.06 368.89,157.39 369.44,156.75 370,157.04 370.56,157.49 371.11,157.11 371.67,156.99 372.22,156.8 372.78,157.09 373.33,157.51 373.89,156.54 374.44,157.33 375,157.37 375.56,157.44 376.11,157.3 376.67,157.37 377.22,157.08 377.78,157.13 378.33,156.99 378.89,156.62 379.44,157.45 380,157.15 380.56,156.77 381.11,157.09 381.67,157.07 382.22,156.94 382.78,156.93 383.33,157.13 383.89,157.22 384.44,157.21 385,157.06 385.56,156.63 386.11,156.83 386.67,156.78 387.22,157.2 387.78,157.48 388.33,157.42 388.89,157.42 389.44,157.44 390,156.88 390.56,157.47 391.11,157.3 391.67,156.71 392.22,156.65 392.78,156.65 393.33,157.4 393.89,156.89 394.44,156.76 395,157.28 395.56,157 396.11,156.72 396.67,156.82 397.22,157.19 397.78,156.83 398.33,156.94 398.89,157.38 399.44,157.13 400,157 400.56,157.15 401.11,156.7 401.67,157.07 402.22,157.11 402.78,156.88 403.33,156.8 403.89,157.59 404.44,157.21 405,157.2 405.7,158" fill="#000"/>
<rect x="316.8" y="111.8" width="89.4" height="46.2" fill="none" stroke="#222" stroke-width="0.9"/>
<path d="M316.8 111.8V158H406.2" fill="none" stroke="#000" stroke-width="1.3"/>
<path d="M315 158H316.8" stroke="#000" stroke-width="0.6"/>
<path d="M315.5 156.15H316.8" stroke="#000" stroke-width="0.6"/>
<path d="M315.5 154.3H316.8" stroke="#000" stroke-width="0.6"/>
<path d="M315.5 152.46H316.8" stroke="#000" stroke-width="0.6"/>
<path d="M315.5 150.61H316.8" stroke="#000" stroke-width="0.6"/>
<path d="M315 148.76H316.8" stroke="#000" stroke-width="0.6"/>
<path d="M315.5 146.91H316.8" stroke="#000" stroke-width="0.6"/>
<path d="M315.5 145.06H316.8" stroke="#000" stroke-width="0.6"/>
<path d="M315.5 143.22H316.8" stroke="#000" stroke-width="0.6"/>
<path d="M315.5 141.37H316.8" stroke="#000" stroke-width="0.6"/>
<path d="M315 139.52H316.8" stroke="#000" stroke-width="0.6"/>
<path d="M315.5 137.67H316.8" stroke="#000" stroke-width="0.6"/>
<path d="M315.5 135.82H316.8" stroke="#000" stroke-width="0.6"/>
<path d="M315.5 133.98H316.8" stroke="#000" stroke-width="0.6"/>
<path d="M315.5 132.13H316.8" stroke="#000" stroke-width="0.6"/>
<path d="M315 130.28H316.8" stroke="#000" stroke-width="0.6"/>
<path d="M315.5 128.43H316.8" stroke="#000" stroke-width="0.6"/>
<path d="M315.5 126.58H316.8" stroke="#000" stroke-width="0.6"/>
<path d="M315.5 124.74H316.8" stroke="#000" stroke-width="0.6"/>
<path d="M315.5 122.89H316.8" stroke="#000" stroke-width="0.6"/>
<path d="M315 121.04H316.8" stroke="#000" stroke-width="0.6"/>
<path d="M315.5 119.19H316.8" stroke="#000" stroke-width="0.6"/>
<path d="M315.5 117.34H316.8" stroke="#000" stroke-width="0.6"/>
<path d="M315.5 115.5H316.8" stroke="#000" stroke-width="0.6"/>
<path d="M315.5 113.65H316.8" stroke="#000" stroke-width="0.6"/>
<path d="M315 111.8H316.8" stroke="#000" stroke-width="0.6"/>
<text transform="translate(313.8 156.5) rotate(-90)" font-size="3.9" text-anchor="middle" stroke="#000" stroke-width="0.18">0</text>
<text transform="translate(313.8 147.26) rotate(-90)" font-size="3.9" text-anchor="middle" stroke="#000" stroke-width="0.18">20</text>
<text transform="translate(313.8 138.02) rotate(-90)" font-size="3.9" text-anchor="middle" stroke="#000" stroke-width="0.18">40</text>
<text transform="translate(313.8 128.78) rotate(-90)" font-size="3.9" text-anchor="middle" stroke="#000" stroke-width="0.18">60</text>
<text transform="translate(313.8 119.54) rotate(-90)" font-size="3.9" text-anchor="middle" stroke="#000" stroke-width="0.18">80</text>
<text transform="translate(313.8 110.3) rotate(-90)" font-size="3.9" text-anchor="middle" stroke="#000" stroke-width="0.18">100</text>
<text transform="translate(308.6 135.3) rotate(-90)" font-size="4.2" text-anchor="middle" stroke="#000" stroke-width="0.18">Counts</text>
<path d="M316.8 158V159.8" stroke="#000" stroke-width="0.6"/>
<path d="M323.53 158V159.3" stroke="#000" stroke-width="0.6"/>
<path d="M327.46 158V159.3" stroke="#000" stroke-width="0.6"/>
<path d="M330.26 158V159.3" stroke="#000" stroke-width="0.6"/>
<path d="M332.42 158V159.3" stroke="#000" stroke-width="0.6"/>
<path d="M334.19 158V159.3" stroke="#000" stroke-width="0.6"/>
<path d="M335.69 158V159.3" stroke="#000" stroke-width="0.6"/>
<path d="M336.98 158V159.3" stroke="#000" stroke-width="0.6"/>
<path d="M338.13 158V159.3" stroke="#000" stroke-width="0.6"/>
<path d="M339.15 158V159.8" stroke="#000" stroke-width="0.6"/>
<path d="M345.88 158V159.3" stroke="#000" stroke-width="0.6"/>
<path d="M349.81 158V159.3" stroke="#000" stroke-width="0.6"/>
<path d="M352.61 158V159.3" stroke="#000" stroke-width="0.6"/>
<path d="M354.77 158V159.3" stroke="#000" stroke-width="0.6"/>
<path d="M356.54 158V159.3" stroke="#000" stroke-width="0.6"/>
<path d="M358.04 158V159.3" stroke="#000" stroke-width="0.6"/>
<path d="M359.33 158V159.3" stroke="#000" stroke-width="0.6"/>
<path d="M360.48 158V159.3" stroke="#000" stroke-width="0.6"/>
<path d="M361.5 158V159.8" stroke="#000" stroke-width="0.6"/>
<path d="M368.23 158V159.3" stroke="#000" stroke-width="0.6"/>
<path d="M372.16 158V159.3" stroke="#000" stroke-width="0.6"/>
<path d="M374.96 158V159.3" stroke="#000" stroke-width="0.6"/>
<path d="M377.12 158V159.3" stroke="#000" stroke-width="0.6"/>
<path d="M378.89 158V159.3" stroke="#000" stroke-width="0.6"/>
<path d="M380.39 158V159.3" stroke="#000" stroke-width="0.6"/>
<path d="M381.68 158V159.3" stroke="#000" stroke-width="0.6"/>
<path d="M382.83 158V159.3" stroke="#000" stroke-width="0.6"/>
<path d="M383.85 158V159.8" stroke="#000" stroke-width="0.6"/>
<path d="M390.58 158V159.3" stroke="#000" stroke-width="0.6"/>
<path d="M394.51 158V159.3" stroke="#000" stroke-width="0.6"/>
<path d="M397.31 158V159.3" stroke="#000" stroke-width="0.6"/>
<path d="M399.47 158V159.3" stroke="#000" stroke-width="0.6"/>
<path d="M401.24 158V159.3" stroke="#000" stroke-width="0.6"/>
<path d="M402.74 158V159.3" stroke="#000" stroke-width="0.6"/>
<path d="M404.03 158V159.3" stroke="#000" stroke-width="0.6"/>
<path d="M405.18 158V159.3" stroke="#000" stroke-width="0.6"/>
<text x="316.2" y="165.1" font-size="3.9" text-anchor="middle" stroke="#000" stroke-width="0.18">10</text>
<text x="318.8" y="162.7" font-size="3.2" stroke="#000" stroke-width="0.18">0</text>
<text x="338.55" y="165.1" font-size="3.9" text-anchor="middle" stroke="#000" stroke-width="0.18">10</text>
<text x="341.15" y="162.7" font-size="3.2" stroke="#000" stroke-width="0.18">1</text>
<text x="360.9" y="165.1" font-size="3.9" text-anchor="middle" stroke="#000" stroke-width="0.18">10</text>
<text x="363.5" y="162.7" font-size="3.2" stroke="#000" stroke-width="0.18">2</text>
<text x="383.25" y="165.1" font-size="3.9" text-anchor="middle" stroke="#000" stroke-width="0.18">10</text>
<text x="385.85" y="162.7" font-size="3.2" stroke="#000" stroke-width="0.18">3</text>
<text x="405.6" y="165.1" font-size="3.9" text-anchor="middle" stroke="#000" stroke-width="0.18">10</text>
<text x="408.2" y="162.7" font-size="3.2" stroke="#000" stroke-width="0.18">4</text>
<text x="361.5" y="169" font-size="4.2" text-anchor="middle" font-weight="bold">CCR6 PE</text>
<path d="M354.4 139.5H406.2 M354.4 135.5V143.5" stroke="#333" stroke-width="0.8" fill="none"/>
<text x="388" y="144.2" font-size="3.8" textLength="6.4" lengthAdjust="spacingAndGlyphs">M1</text>
<text x="299.2" y="109.7" font-size="9.2">v</text>
<polygon points="429.5,155.5 429.5,141.7 430.07,143.8 430.63,143.96 431.2,143.13 431.9,142.26 432.6,140.7 433.3,139.83 434,138.87 434.7,135.31 435.4,133.63 436.1,134.62 436.8,131.41 437.5,130.94 438.25,126.81 439,127.57 440,130.88 440.65,127.22 441.3,128.64 442.05,130.97 442.8,130.25 443.55,131.34 444.3,134.24 444.87,137.3 445.43,137.27 446,138.6 446.7,140.96 447.4,141.8 448.1,144.09 448.8,145.97 449.5,147.49 450.2,148.45 450.9,148.96 451.6,149.46 452.3,150.34 453,150.66 453.7,150.87 454.4,152.54 455.04,152.15 455.68,152.25 456.32,151.63 456.96,152.67 457.6,152.48 458.3,152.27 459,153.28 459.7,154.43 460.29,154.54 460.88,154.89 461.47,154.49 462.06,155.02 462.64,154.98 463.23,154.74 463.82,155.14 464.41,155.2 465,155.2 465.56,155.2 466.11,155.2 466.67,154.96 467.22,155.18 467.78,155.2 468.33,155.2 468.89,155.2 469.44,155.2 470,155.2 470.56,155.2 471.11,155.2 471.67,155.2 472.22,155.2 472.78,155.2 473.33,155.2 473.89,155.2 474.44,155.2 475,155.2 475.56,155.2 476.11,155.2 476.67,155.2 477.22,155.2 477.78,155.2 478.33,155.2 478.89,155.2 479.44,155.2 480,155.2 480.56,155.2 481.11,155.2 481.67,155.2 482.22,155.2 482.78,155.2 483.33,155.2 483.89,155.2 484.44,155.2 485,155.2 485.56,155.2 486.11,155.2 486.67,155.2 487.22,155.2 487.78,155.2 488.33,155.2 488.89,155.2 489.44,155.2 490,155.2 490.56,155.2 491.11,155.2 491.67,155.2 492.22,155.2 492.78,155.2 493.33,155.2 493.89,155.2 494.44,155.2 495,155.2 495.56,155.2 496.11,155.2 496.67,155.2 497.22,155.2 497.78,155.2 498.33,155.2 498.89,155.2 499.44,155.2 500,155.2 500.56,155.2 501.11,155.2 501.67,155.2 502.22,155.2 502.78,155.2 503.33,155.2 503.89,155.2 504.44,155.2 505,155.2 505.56,155.2 506.11,155.2 506.67,155.2 507.22,155.2 507.78,155.2 508.33,155.2 508.89,155.2 509.44,155.2 510,155.2 510.56,155.2 511.11,155.2 511.67,155.2 512.22,155.2 512.78,155.2 513.33,155.2 513.89,155.2 514.44,155.2 515,155.9 515.2,155.5" fill="#000"/>
<rect x="429" y="111.3" width="86.7" height="44.2" fill="none" stroke="#222" stroke-width="0.9"/>
<path d="M429 111.3V155.5H515.7" fill="none" stroke="#000" stroke-width="1.3"/>
<path d="M427.2 155.5H429" stroke="#000" stroke-width="0.6"/>
<path d="M427.7 153.73H429" stroke="#000" stroke-width="0.6"/>
<path d="M427.7 151.96H429" stroke="#000" stroke-width="0.6"/>
<path d="M427.7 150.2H429" stroke="#000" stroke-width="0.6"/>
<path d="M427.7 148.43H429" stroke="#000" stroke-width="0.6"/>
<path d="M427.2 146.66H429" stroke="#000" stroke-width="0.6"/>
<path d="M427.7 144.89H429" stroke="#000" stroke-width="0.6"/>
<path d="M427.7 143.12H429" stroke="#000" stroke-width="0.6"/>
<path d="M427.7 141.36H429" stroke="#000" stroke-width="0.6"/>
<path d="M427.7 139.59H429" stroke="#000" stroke-width="0.6"/>
<path d="M427.2 137.82H429" stroke="#000" stroke-width="0.6"/>
<path d="M427.7 136.05H429" stroke="#000" stroke-width="0.6"/>
<path d="M427.7 134.28H429" stroke="#000" stroke-width="0.6"/>
<path d="M427.7 132.52H429" stroke="#000" stroke-width="0.6"/>
<path d="M427.7 130.75H429" stroke="#000" stroke-width="0.6"/>
<path d="M427.2 128.98H429" stroke="#000" stroke-width="0.6"/>
<path d="M427.7 127.21H429" stroke="#000" stroke-width="0.6"/>
<path d="M427.7 125.44H429" stroke="#000" stroke-width="0.6"/>
<path d="M427.7 123.68H429" stroke="#000" stroke-width="0.6"/>
<path d="M427.7 121.91H429" stroke="#000" stroke-width="0.6"/>
<path d="M427.2 120.14H429" stroke="#000" stroke-width="0.6"/>
<path d="M427.7 118.37H429" stroke="#000" stroke-width="0.6"/>
<path d="M427.7 116.6H429" stroke="#000" stroke-width="0.6"/>
<path d="M427.7 114.84H429" stroke="#000" stroke-width="0.6"/>
<path d="M427.7 113.07H429" stroke="#000" stroke-width="0.6"/>
<path d="M427.2 111.3H429" stroke="#000" stroke-width="0.6"/>
<text transform="translate(426 154) rotate(-90)" font-size="3.9" text-anchor="middle" stroke="#000" stroke-width="0.18">0</text>
<text transform="translate(426 145.16) rotate(-90)" font-size="3.9" text-anchor="middle" stroke="#000" stroke-width="0.18">20</text>
<text transform="translate(426 136.32) rotate(-90)" font-size="3.9" text-anchor="middle" stroke="#000" stroke-width="0.18">40</text>
<text transform="translate(426 127.48) rotate(-90)" font-size="3.9" text-anchor="middle" stroke="#000" stroke-width="0.18">60</text>
<text transform="translate(426 118.64) rotate(-90)" font-size="3.9" text-anchor="middle" stroke="#000" stroke-width="0.18">80</text>
<text transform="translate(426 109.8) rotate(-90)" font-size="3.9" text-anchor="middle" stroke="#000" stroke-width="0.18">100</text>
<text transform="translate(420.8 133.8) rotate(-90)" font-size="4.2" text-anchor="middle" stroke="#000" stroke-width="0.18">Counts</text>
<path d="M429 155.5V157.3" stroke="#000" stroke-width="0.6"/>
<path d="M435.52 155.5V156.8" stroke="#000" stroke-width="0.6"/>
<path d="M439.34 155.5V156.8" stroke="#000" stroke-width="0.6"/>
<path d="M442.05 155.5V156.8" stroke="#000" stroke-width="0.6"/>
<path d="M444.15 155.5V156.8" stroke="#000" stroke-width="0.6"/>
<path d="M445.87 155.5V156.8" stroke="#000" stroke-width="0.6"/>
<path d="M447.32 155.5V156.8" stroke="#000" stroke-width="0.6"/>
<path d="M448.57 155.5V156.8" stroke="#000" stroke-width="0.6"/>
<path d="M449.68 155.5V156.8" stroke="#000" stroke-width="0.6"/>
<path d="M450.68 155.5V157.3" stroke="#000" stroke-width="0.6"/>
<path d="M457.2 155.5V156.8" stroke="#000" stroke-width="0.6"/>
<path d="M461.02 155.5V156.8" stroke="#000" stroke-width="0.6"/>
<path d="M463.72 155.5V156.8" stroke="#000" stroke-width="0.6"/>
<path d="M465.83 155.5V156.8" stroke="#000" stroke-width="0.6"/>
<path d="M467.54 155.5V156.8" stroke="#000" stroke-width="0.6"/>
<path d="M468.99 155.5V156.8" stroke="#000" stroke-width="0.6"/>
<path d="M470.25 155.5V156.8" stroke="#000" stroke-width="0.6"/>
<path d="M471.36 155.5V156.8" stroke="#000" stroke-width="0.6"/>
<path d="M472.35 155.5V157.3" stroke="#000" stroke-width="0.6"/>
<path d="M478.87 155.5V156.8" stroke="#000" stroke-width="0.6"/>
<path d="M482.69 155.5V156.8" stroke="#000" stroke-width="0.6"/>
<path d="M485.4 155.5V156.8" stroke="#000" stroke-width="0.6"/>
<path d="M487.5 155.5V156.8" stroke="#000" stroke-width="0.6"/>
<path d="M489.22 155.5V156.8" stroke="#000" stroke-width="0.6"/>
<path d="M490.67 155.5V156.8" stroke="#000" stroke-width="0.6"/>
<path d="M491.92 155.5V156.8" stroke="#000" stroke-width="0.6"/>
<path d="M493.03 155.5V156.8" stroke="#000" stroke-width="0.6"/>
<path d="M494.03 155.5V157.3" stroke="#000" stroke-width="0.6"/>
<path d="M500.55 155.5V156.8" stroke="#000" stroke-width="0.6"/>
<path d="M504.37 155.5V156.8" stroke="#000" stroke-width="0.6"/>
<path d="M507.07 155.5V156.8" stroke="#000" stroke-width="0.6"/>
<path d="M509.18 155.5V156.8" stroke="#000" stroke-width="0.6"/>
<path d="M510.89 155.5V156.8" stroke="#000" stroke-width="0.6"/>
<path d="M512.34 155.5V156.8" stroke="#000" stroke-width="0.6"/>
<path d="M513.6 155.5V156.8" stroke="#000" stroke-width="0.6"/>
<path d="M514.71 155.5V156.8" stroke="#000" stroke-width="0.6"/>
<text x="428.4" y="162.6" font-size="3.9" text-anchor="middle" stroke="#000" stroke-width="0.18">10</text>
<text x="431" y="160.2" font-size="3.2" stroke="#000" stroke-width="0.18">0</text>
<text x="450.07" y="162.6" font-size="3.9" text-anchor="middle" stroke="#000" stroke-width="0.18">10</text>
<text x="452.68" y="160.2" font-size="3.2" stroke="#000" stroke-width="0.18">1</text>
<text x="471.75" y="162.6" font-size="3.9" text-anchor="middle" stroke="#000" stroke-width="0.18">10</text>
<text x="474.35" y="160.2" font-size="3.2" stroke="#000" stroke-width="0.18">2</text>
<text x="493.43" y="162.6" font-size="3.9" text-anchor="middle" stroke="#000" stroke-width="0.18">10</text>
<text x="496.03" y="160.2" font-size="3.2" stroke="#000" stroke-width="0.18">3</text>
<text x="515.1" y="162.6" font-size="3.9" text-anchor="middle" stroke="#000" stroke-width="0.18">10</text>
<text x="517.7" y="160.2" font-size="3.2" stroke="#000" stroke-width="0.18">4</text>
<text x="472.35" y="166.5" font-size="4.2" text-anchor="middle" font-weight="bold">CCR6 PE</text>
<path d="M465.4 138.5H515.7 M465.4 134.5V142.5" stroke="#333" stroke-width="0.8" fill="none"/>
<text x="498.9" y="142.8" font-size="3.8" textLength="5.2" lengthAdjust="spacingAndGlyphs">M1</text>
<text x="411.7" y="109.7" font-size="9.2">vi</text>
</svg>
</body></html>
